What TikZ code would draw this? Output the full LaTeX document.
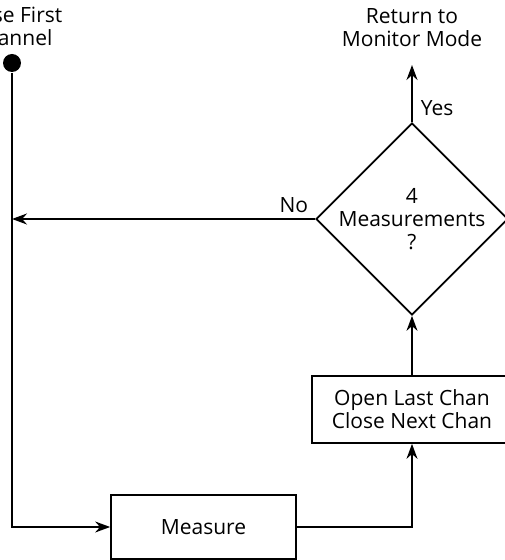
\documentclass[tikz,border=0pt]{standalone}
\usepackage{fontspec}
\setmainfont{Open Sans}
\usetikzlibrary{arrows.meta,shapes.geometric}

\begin{document}
\begin{tikzpicture}[x=1pt,y=1pt,>={Stealth[length=15pt,width=11pt]},line width=1.7pt,
  font=\fontsize{21}{23}\selectfont,
  box/.style={draw,rectangle,align=center,inner sep=0pt},
  decide/.style={draw,diamond,aspect=1,align=center,inner sep=-16pt,minimum size=192pt},
  dot/.style={circle,fill=black,inner sep=0pt,minimum size=18pt}]
\useasboundingbox (0,0) rectangle (505,560);
% start point
\node[dot] (start) at (12,497) {};
\node[align=center,anchor=south,inner sep=0pt] (startlbl) at (12,513) {Close First\\Channel};
% blocks
\node[box,minimum width=185pt,minimum height=64pt] (meas) at (203.5,33) {Measure};
\node[box,minimum width=200pt,minimum height=67pt] (open) at (412,150.5) {Open Last Chan\\Close Next Chan};
\node[decide] (dec) at (412,341) {4\\Measurements\\?};
\node[align=center,anchor=south,inner sep=0pt] (ret) at (412,512) {Return to\\Monitor Mode};
\coordinate (retpt) at (412,495);
\coordinate (join) at (start |- dec);
% connectors
\draw[->] (start) |- (meas);
\draw[->] (meas) -| (open);
\draw[->] (open) -- (dec);
\draw[->] (dec) -- (retpt) node[pos=.25,right,inner sep=8pt] {Yes};
\draw[->] (dec) -- (join) node[pos=.07,above,inner sep=5pt] {No};
\end{tikzpicture}
\end{document}
